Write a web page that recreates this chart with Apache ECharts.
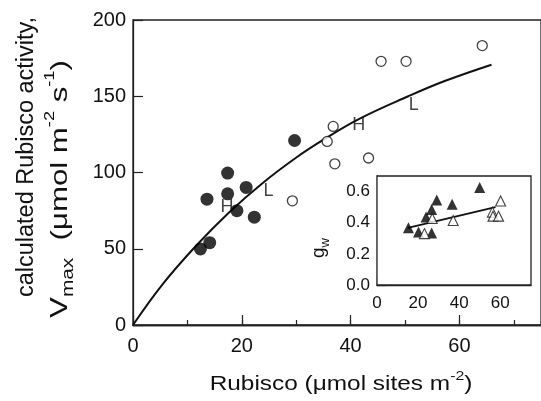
<!DOCTYPE html>
<html><head><meta charset="utf-8">
<script src="https://cdn.jsdelivr.net/npm/echarts@6/dist/echarts.min.js"></script>
<style>html,body{margin:0;padding:0;background:#fff}#c{width:541px;height:401px}</style>
</head><body><div id="c"></div>
<script>
// Main panel: Vmax vs Rubisco
const filledRubisco = [17.4, 13.6, 17.4, 20.8, 19.1, 22.3, 14.1, 12.4, 29.7];
const filledVmax    = [99.6, 82.5, 86.0, 90.2, 75.0, 70.7, 54.0, 49.9, 121.0];
const openRubisco   = [29.3, 64.2, 45.6, 50.2, 36.8, 35.7, 37.1, 43.3];
const openVmax      = [81.4, 183.2, 172.9, 172.9, 130.2, 120.4, 105.7, 109.5];
const curveRubisco  = [0, 5.5, 11.6, 17.7, 23.8, 29.9, 34.8, 41.5, 50.6, 57.3, 65.9];
const curveVmax     = [0, 27, 52, 74, 93, 109.5, 121, 135, 150, 160, 170.7];
const tagText       = ['H', 'L', 'H', 'L'];
const tagRubisco    = [17.3, 24.9, 41.5, 51.6];
const tagVmax       = [77.1, 88.0, 131.3, 144.4];
const mainXLabels   = [0, 20, 40, 60];
const mainYTicks    = [0, 50, 100, 150, 200];

// Inset: gw vs Rubisco
const insetFilledX = [15.3, 20.2, 23.9, 26.6, 29.1, 26.6, 36.6, 50.0];
const insetFilledY = [0.367, 0.341, 0.436, 0.485, 0.546, 0.334, 0.518, 0.626];
const insetOpenX   = [23.1, 26.9, 37.1, 56.2, 56.5, 59.2, 60.2];
const insetOpenY   = [0.330, 0.427, 0.414, 0.468, 0.442, 0.442, 0.539];
const insetLineX   = [15.0, 57.7];
const insetLineY   = [0.367, 0.500];
const insetXLabels = [0, 20, 40, 60];
const insetYLabels = [0.0, 0.2, 0.4, 0.6];

const zip = (a, b) => a.map((v, i) => [v, b[i]]);
const FONT = "'Liberation Sans', Arial, Helvetica, sans-serif";
const INK = '#111';
const axisLine = { show: true, lineStyle: { color: '#222', width: 1.3 } };

const chart = echarts.init(document.getElementById('c'), null, { renderer: 'canvas' });
chart.setOption({
  animation: false,
  backgroundColor: '#fff',
  textStyle: { fontFamily: FONT, color: INK },
  grid: [
    { left: 133, top: 20, width: 411, height: 305, show: true, borderColor: '#222', borderWidth: 1.3, backgroundColor: 'transparent' },
    { left: 377, top: 176, width: 154, height: 109, show: true, borderColor: '#222', borderWidth: 1.3, backgroundColor: '#fff', z: 5 }
  ],
  xAxis: [
    { gridIndex: 0, type: 'value', min: 0, max: 75, interval: 10, position: 'bottom',
      axisLine, splitLine: { show: false },
      axisTick: { show: true, inside: true, length: 5, lineStyle: { color: '#222', width: 1.2 } },
      axisLabel: { show: false } },
    { gridIndex: 0, type: 'value', min: 0, max: 75, interval: 20, position: 'bottom',
      axisLine, splitLine: { show: false },
      axisTick: { show: true, inside: true, length: 10, lineStyle: { color: '#222', width: 1.2 } },
      axisLabel: { show: true, margin: 11, fontSize: 20, color: INK, fontFamily: FONT, showMaxLabel: false,
        formatter: v => mainXLabels.includes(v) ? String(v) : '' } },
    { gridIndex: 1, type: 'value', min: 0, max: 75, interval: 20, position: 'bottom',
      axisLine, splitLine: { show: false },
      axisTick: { show: true, inside: true, length: 8, lineStyle: { color: '#222', width: 1.2 } },
      axisLabel: { show: true, margin: 10, fontSize: 17, color: INK, fontFamily: FONT, showMaxLabel: false,
        formatter: v => insetXLabels.includes(v) ? String(v) : '' } }
  ],
  yAxis: [
    { gridIndex: 0, type: 'value', min: 0, max: 200, interval: 50,
      axisLine, splitLine: { show: false },
      axisTick: { show: true, inside: true, length: 10, lineStyle: { color: '#222', width: 1.2 } },
      axisLabel: { show: true, margin: 7, fontSize: 20, color: INK, fontFamily: FONT,
        formatter: v => mainYTicks.includes(v) ? String(v) : '' } },
    { gridIndex: 1, type: 'value', min: 0, max: 0.7, interval: 0.2,
      axisLine, splitLine: { show: false },
      axisTick: { show: true, inside: true, length: 9, lineStyle: { color: '#222', width: 1.2 } },
      axisLabel: { show: true, margin: 7, fontSize: 17, color: INK, fontFamily: FONT, showMaxLabel: false,
        formatter: v => insetYLabels.some(t => Math.abs(t - v) < 1e-6) ? v.toFixed(1) : '' } }
  ],
  series: [
    { type: 'line', xAxisIndex: 0, yAxisIndex: 0, data: zip(curveRubisco, curveVmax), smooth: 0.4,
      showSymbol: false, symbol: 'none', lineStyle: { color: '#111', width: 2 }, z: 2 },
    { type: 'scatter', xAxisIndex: 0, yAxisIndex: 0, data: zip(filledRubisco, filledVmax),
      symbol: 'circle', symbolSize: 13, itemStyle: { color: '#000' }, z: 3 },
    { type: 'scatter', xAxisIndex: 0, yAxisIndex: 0, data: zip(openRubisco, openVmax),
      symbol: 'circle', symbolSize: 10, itemStyle: { color: '#fff', borderColor: '#111', borderWidth: 1.3 }, z: 3 },
    { type: 'scatter', xAxisIndex: 0, yAxisIndex: 0,
      data: tagText.map((t, i) => ({ name: t, value: [tagRubisco[i], tagVmax[i]] })),
      symbolSize: 1, itemStyle: { color: 'transparent' }, z: 4,
      label: { show: true, position: 'inside', formatter: p => p.name, fontSize: 18, color: INK, fontFamily: FONT } },
    { type: 'line', xAxisIndex: 2, yAxisIndex: 1, data: zip(insetLineX, insetLineY),
      showSymbol: false, symbol: 'none', lineStyle: { color: '#111', width: 2 }, z: 6 },
    { type: 'scatter', xAxisIndex: 2, yAxisIndex: 1, data: zip(insetFilledX, insetFilledY),
      symbol: 'triangle', symbolSize: 11, itemStyle: { color: '#000' }, z: 7 },
    { type: 'scatter', xAxisIndex: 2, yAxisIndex: 1, data: zip(insetOpenX, insetOpenY),
      symbol: 'triangle', symbolSize: 10, itemStyle: { color: '#fff', borderColor: '#111', borderWidth: 1.1 }, z: 7 }
  ],
  graphic: [
    { type: 'text', x: 27, y: 157, rotation: Math.PI / 2, scaleX: 1.02, z: 10,
      style: { text: 'calculated Rubisco activity,', font: `23px ${FONT}`, fill: INK, align: 'center', verticalAlign: 'middle' } },
    { type: 'text', x: 60, y: 189, rotation: Math.PI / 2, scaleX: 1.3, z: 10,
      style: { text: '{n|V}{sub|max}{n|  (μmol m}{sup|-2}{n| s}{sup|-1}{n|)}', align: 'center', verticalAlign: 'middle',
        rich: {
          n: { fontSize: 24, lineHeight: 34, fontFamily: FONT, fill: INK, color: INK },
          sub: { fontSize: 16, lineHeight: 16, verticalAlign: 'bottom', fontFamily: FONT, fill: INK, color: INK },
          sup: { fontSize: 14, lineHeight: 14, verticalAlign: 'top', fontFamily: FONT, fill: INK, color: INK }
        } } },
    { type: 'text', x: 341, y: 384, scaleX: 1.22, z: 10,
      style: { text: '{n|Rubisco (μmol sites m}{sup|-2}{n|)}', align: 'center', verticalAlign: 'middle',
        rich: {
          n: { fontSize: 20, lineHeight: 28, fontFamily: FONT, fill: INK, color: INK },
          sup: { fontSize: 13, lineHeight: 13, verticalAlign: 'top', fontFamily: FONT, fill: INK, color: INK }
        } } },
    { type: 'text', x: 319, y: 248, rotation: Math.PI / 2, z: 10,
      style: { text: '{g|g}{w|w}', align: 'center', verticalAlign: 'middle',
        rich: {
          g: { fontSize: 19, lineHeight: 26, fontFamily: FONT, fill: INK, color: INK },
          w: { fontSize: 13, lineHeight: 13, verticalAlign: 'bottom', fontFamily: FONT, fill: INK, color: INK }
        } } }
  ]
});
</script>
</body></html>
